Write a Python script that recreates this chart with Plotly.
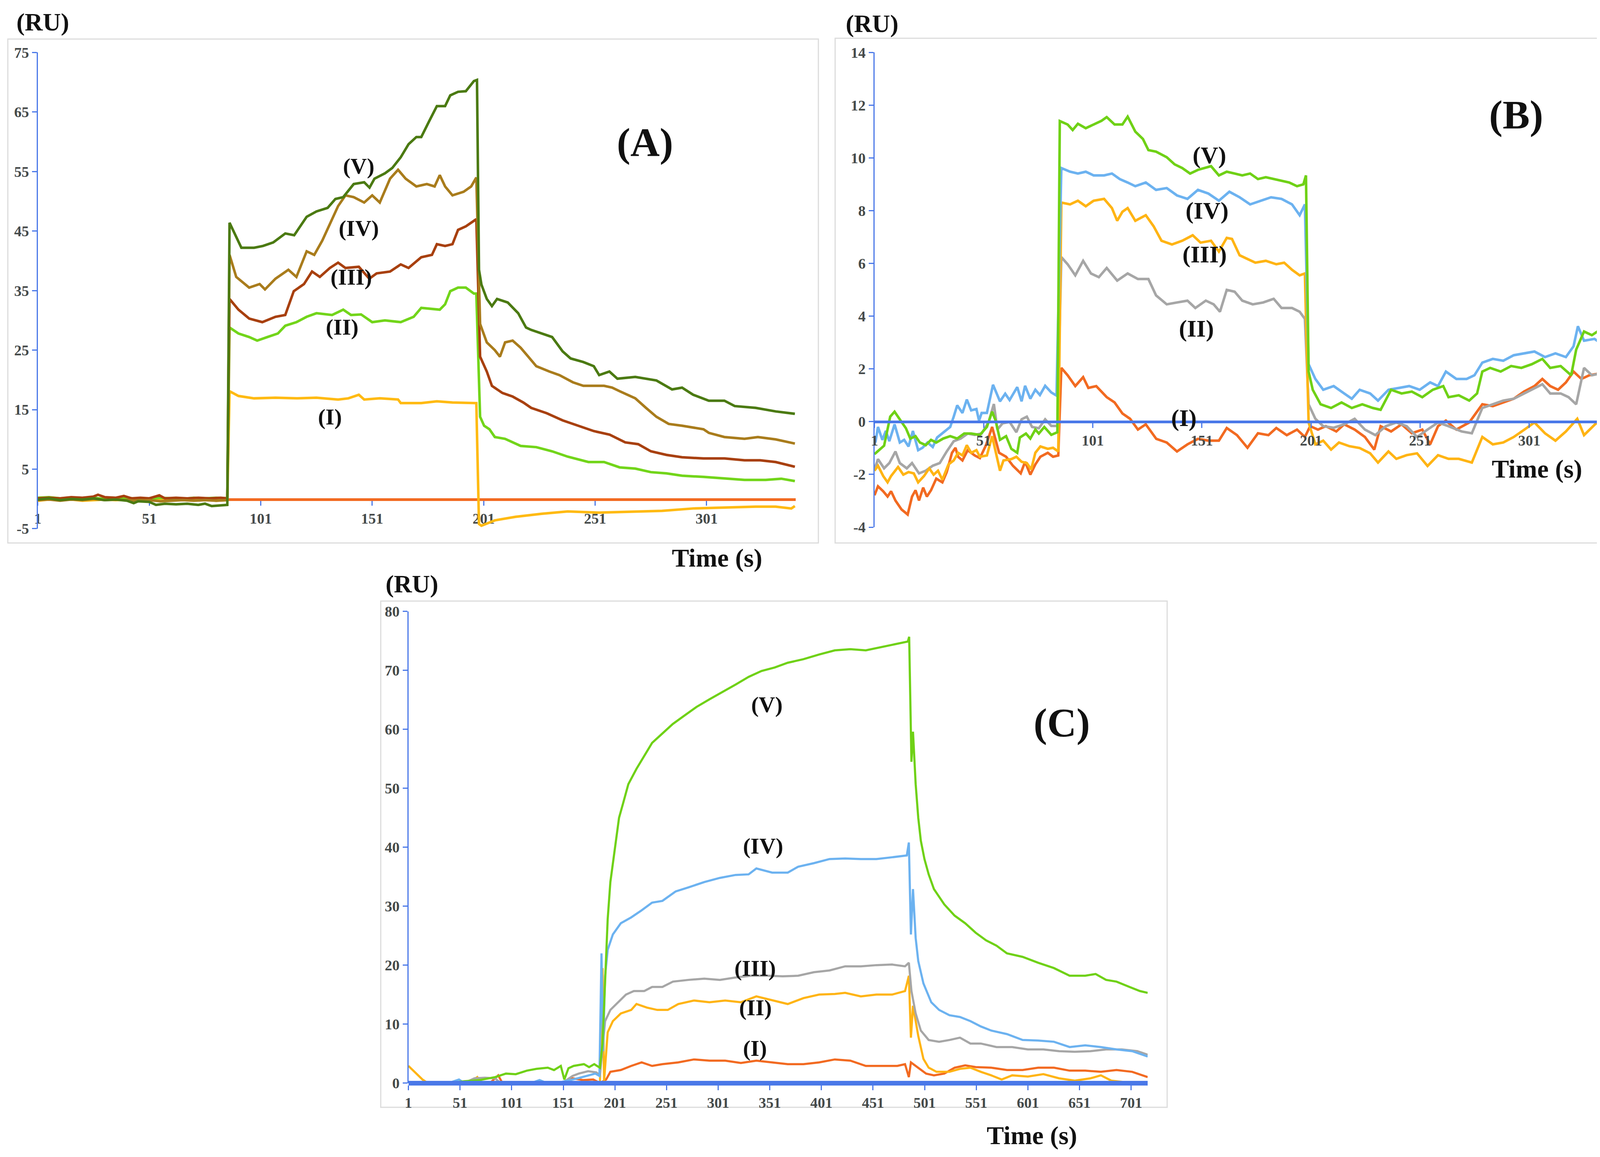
import plotly.graph_objects as go

W, H = 4200, 2963
SERIF = "Liberation Serif"
OFF = 8  # page body margin compensation (pixels)

# ---------------- Panel A data (time s, RU) ----------------
A_I = [(1,-0.3),(6,-0.1),(11,-0.2),(16,-0.1),(21,-0.3),(26,-0.2),(31,-0.1),(36,-0.2),(41,-0.1),(46,-0.2),(51,-0.3),(56,-0.1),(61,-0.2),(66,-0.1),(71,-0.2),(76,-0.1),(81,-0.3),(86,-0.2),
       (87,18.1),(91,17.3),(98,16.9),(107.6,17.0),(117,16.9),(126,17.0),(135.7,16.7),(140.3,16.9),(145,17.5),(147.4,16.7),(154.4,16.9),(162.6,16.7),(163.8,16.1),(173,16.1),(180,16.4),(187,16.2),(197.7,16.1),
       (198.9,-4.2),(200,-4.5),(206,-3.6),(215.3,-3.0),(227,-2.5),(238.7,-2.1),(252.8,-2.3),(266.8,-2.1),(281,-2.0),(295,-1.6),(309,-1.4),(323,-1.3),(332,-1.3),(339,-1.6),(340.6,-1.2)]
A_II = [(1,0.2),(6,0.3),(11,0.1),(16,0.2),(21,0.1),(26,0.2),(31,0.0),(36,0.1),(41,0.2),(46,0.0),(51,0.1),(56,0.2),(61,0.1),(66,0.0),(71,0.2),(76,0.1),(81,0.2),(86,0.1),
        (87,28.8),(91,27.8),(95.8,27.2),(99.4,26.6),(104,27.2),(108.7,27.8),(112,29.1),(117,29.7),(121.6,30.6),(126,31.2),(133,30.9),(138,31.8),(141.5,30.9),(146,31.0),(151,29.7),(156.7,30.0),(163.8,29.7),(169.6,30.6),(173,32.1),(181.3,31.8),(183.7,32.7),(186,34.9),(189.5,35.5),(193,35.5),(196.6,34.5),(197.7,34.5),
        (199.4,13.8),(201.2,12.3),(203.6,11.7),(206,10.4),(210.6,10.1),(217.6,8.9),(224.6,8.7),(231.7,8.0),(238.7,7.1),(248,6.2),(255,6.2),(262,5.3),(269,5.1),(276,4.5),(283,4.3),(290,3.9),(299.6,3.7),(309,3.4),(318,3.2),(327.5,3.2),(334.5,3.4),(340.6,3.0)]
A_III = [(1,0.1),(6,0.2),(11,0.1),(16,0.3),(21,0.2),(26,0.4),(28,0.7),(31,0.3),(36,0.2),(39.6,0.5),(43,0.1),(47,0.2),(51,0.1),(55.5,0.6),(58,0.1),(63,0.2),(68,0.1),(73,0.2),(78,0.1),(83,0.2),(86,0.1),
         (87,33.6),(91,31.8),(95.8,30.3),(101.7,29.7),(107.6,30.6),(112,30.9),(115.8,34.9),(120.4,36.1),(124,38.2),(127.5,37.3),(132,38.8),(135.7,39.7),(139,38.8),(145,39.0),(149.7,37.0),(153,37.9),(159,38.2),(163.8,39.4),(167.3,38.8),(173,40.6),(177.8,41.0),(180,42.8),(183.7,42.5),(187,42.8),(189.5,45.2),(193,45.8),(196.6,46.7),(197.7,47.0),
         (199.4,23.9),(202.4,21.4),(204.7,19.0),(209.4,17.8),(214,17.2),(218.8,16.2),(222.3,15.3),(229.3,14.4),(236.4,13.2),(243.4,12.3),(250.4,11.4),(257.5,10.8),(264.5,9.5),(270.3,9.2),(276,8.0),(283,7.4),(290,7.0),(299.6,6.8),(309,6.8),(318,6.5),(325,6.5),(332,6.2),(340.6,5.4)]
A_IV = [(1,-0.2),(6,-0.1),(11,-0.3),(16,-0.1),(21,-0.2),(26,0.0),(31,-0.2),(36,-0.1),(41,-0.2),(46,-0.3),(51,-0.2),(56,-0.4),(61,-0.3),(66,-0.2),(71,-0.3),(76,-0.2),(81,-0.3),(86,-0.2),
        (87,41.0),(90,37.3),(95.8,35.5),(100.5,36.1),(102.9,35.2),(107.6,37.0),(113.4,38.5),(117,37.3),(121.6,41.6),(125,41.0),(128.6,43.4),(132,46.1),(135.7,49.2),(139,51.0),(142.7,50.7),(147.4,49.8),(151,51.0),(154.4,49.8),(159,53.8),(162.6,55.3),(166,53.8),(170.8,52.5),(175.5,52.9),(179,52.5),(181.3,54.4),(183.7,52.5),(187,51.0),(192,51.6),(195.4,52.5),(197.7,54.0),
        (199.4,29.4),(202.4,26.3),(206,25.0),(208.3,23.9),(210.6,26.3),(214,26.6),(217.6,25.4),(221,23.9),(224.6,22.3),(230.5,21.4),(235,20.8),(241,19.6),(245.7,19.0),(255,19.0),(258.6,18.7),(262,18.1),(269,16.9),(273.8,15.3),(278.5,13.8),(284,12.6),(290,12.3),(299.6,11.7),(302,11.1),(309,10.4),(318,10.1),(324,10.4),(332,10.0),(340.6,9.3)]
A_V = [(1,-0.1),(6,0.1),(11,-0.2),(16,0.0),(21,-0.1),(26,0.1),(31,-0.2),(36,-0.1),(41,-0.3),(44,-0.7),(46,-0.4),(51,-0.5),(54,-1.0),(58,-0.8),(63,-0.9),(68,-0.8),(73,-1.0),(76,-0.8),(79,-1.2),(83,-1.1),(86,-1.0),
       (87,46.4),(92.3,42.2),(98,42.2),(102,42.5),(106.6,43.1),(112,44.6),(116,44.3),(121.6,47.4),(126,48.3),(131,48.9),(134.5,50.4),(138,50.7),(142.7,52.9),(147.4,53.2),(149.8,52.3),(152,53.8),(156.7,54.7),(160,55.6),(163.8,57.4),(167.3,59.6),(170.8,60.8),(173,60.8),(176.6,63.5),(180,66.0),(183.7,66.0),(186,67.8),(189.5,68.4),(193,68.5),(196.6,70.2),(198,70.4),
       (198.9,38.5),(200,36.0),(202.4,33.6),(204.7,32.4),(207,33.6),(211.8,33.0),(216.5,31.2),(220,28.8),(222.3,28.4),(227,27.8),(231.7,27.2),(236.4,24.8),(240,23.6),(245.7,23.0),(250.4,22.3),(252.8,20.8),(257.4,21.4),(261,20.2),(269,20.5),(278.5,19.9),(285.5,18.4),(290,18.7),(295,17.5),(302,16.5),(309,16.5),(313.6,15.6),(323,15.3),(332,14.7),(340.6,14.3)]

# ---------------- Panel B data ----------------
B_I = [(1,-2.79),(2.6,-2.45),(5,-2.64),(7,-2.84),(8.6,-2.64),(10.6,-2.99),(13.4,-3.33),(16.2,-3.52),(18.2,-2.84),(19.8,-2.6),(21.4,-2.99),(23.3,-2.5),(25,-2.84),(26.9,-2.6),(29.3,-2.16),(32.1,-2.3),(34.1,-1.91),(36.5,-1.18),(38.1,-0.99),(39.3,-1.33),(41.3,-1.47),(43.7,-1.08),(46.9,-1.28),(49.3,-1.38),(52.1,-0.89),(54.9,-0.2),(58.1,-1.18),(61.3,-1.33),(64.4,-1.67),(68,-1.96),(70,-1.52),(72.4,-2.01),(74.7,-1.62),(77,-1.33),(80.4,-1.18),(82.8,-1.33),(85.2,-1.28),
       (86.6,2.04),(89.5,1.76),(93,1.35),(96.6,1.69),(99,1.28),(102.6,1.35),(107.4,0.93),(111,0.73),(114.6,0.31),(118.1,0.11),(121.7,-0.3),(125.3,-0.1),(130.1,-0.65),(134.9,-0.79),(139.6,-1.13),(144.4,-0.86),(149.2,-0.65),(154,-0.72),(158.8,-0.72),(162.4,-0.24),(167.1,-0.51),(171.9,-0.99),(176.7,-0.44),(181.5,-0.51),(185.1,-0.24),(189.9,-0.51),(194.6,-0.3),(198.2,-0.58),
       (200.6,-0.17),(204.2,-0.3),(207.8,-0.17),(212.6,-0.37),(216.2,-0.1),(221,-0.3),(225.7,-0.58),(230,-1.06),(232.9,-0.17),(237.7,-0.37),(242.5,-0.1),(247.2,-0.44),(252,-0.3),(255.6,-0.86),(259.2,-0.17),(262.8,0.04),(267.6,-0.3),(273.5,-0.03),(279.5,0.66),(284.3,0.59),(289.1,0.73),(293.9,0.87),(298.6,1.14),(303.4,1.35),(307,1.62),(310.6,1.35),(314.2,1.21),(317.8,1.49),(321.3,1.9),(324.9,1.62),(328.5,1.76),(333.3,1.83),(335.6,1.35),(339.3,1.55)]
B_II = [(1,-1.81),(2.6,-1.42),(5.4,-1.77),(7.8,-1.57),(10.6,-1.13),(12.6,-1.57),(15.8,-1.77),(18.2,-1.57),(21.4,-1.96),(24.5,-1.86),(27.7,-1.67),(30.9,-1.57),(34.1,-1.13),(37.3,-0.74),(40.5,-0.64),(43.7,-0.45),(46.9,-0.5),(50.1,-0.45),(53.3,-0.01),(55.7,0.67),(57.3,-0.3),(59.7,-0.06),(62.9,-0.01),(66,-0.4),(68.4,0.09),(70.8,0.19),(73.2,-0.2),(76.3,-0.25),(79.2,0.09),(82,-0.16),(84.8,-0.16),
        (86.6,6.24),(89.5,5.97),(93,5.55),(96.6,6.1),(100.2,5.62),(103.8,5.48),(107.4,5.83),(112.2,5.35),(117,5.62),(121.7,5.41),(126.5,5.41),(130,4.79),(134.9,4.45),(139.6,4.52),(144.4,4.59),(148,4.31),(152.8,4.59),(156.4,4.45),(159.3,4.17),(162.4,5.0),(166,4.93),(169.5,4.59),(174.3,4.45),(179.1,4.52),(183.9,4.66),(187.5,4.31),(192.3,4.31),(195.8,4.17),(198.2,3.9),
        (199.9,0.66),(203,0.11),(206.6,-0.17),(211.4,-0.23),(216.2,-0.1),(221,0.11),(225.7,-0.3),(230.5,-0.51),(235.3,-0.17),(240.1,-0.03),(244.8,-0.17),(249.6,-0.58),(254.4,-0.3),(259.2,-0.03),(264,-0.17),(270,-0.37),(274.7,-0.44),(279.5,0.52),(284.3,0.66),(289.1,0.8),(293.9,0.87),(298.6,1.07),(303.4,1.28),(307,1.42),(310.6,1.07),(315.4,1.07),(319,0.93),(322.5,0.66),(326.1,2.04),(329.7,1.76),(333.3,1.83),(335.6,1.35),(339.3,1.28)]
B_III = [(1,-1.86),(2.6,-1.67),(5,-2.06),(7,-2.3),(8.6,-2.06),(11.8,-1.72),(14.2,-2.01),(16.6,-1.91),(19,-1.96),(21,-2.3),(23.7,-2.06),(26.1,-1.77),(28.1,-2.01),(30.1,-1.86),(32.1,-2.2),(34.9,-1.62),(37.3,-1.47),(39.3,-1.18),(41.3,-1.28),(43.3,-0.89),(45.3,-1.18),(47.7,-1.08),(49.3,-1.33),(52.5,-1.28),(54.9,-0.55),(56.5,-1.18),(58.5,-1.86),(60.1,-1.47),(63.7,-1.42),(66,-1.33),(68.4,-1.52),(70.8,-1.57),(72.8,-1.81),(74.7,-1.18),(77,-0.94),(80.4,-1.03),(82.8,-0.99),(85.2,-1.13),
         (86.6,8.31),(90.6,8.24),(94.2,8.38),(97.8,8.17),(101.4,8.38),(106.2,8.45),(109.8,8.1),(112.2,7.62),(114.6,7.96),(117,8.1),(120.5,7.62),(125.3,7.83),(128.9,7.41),(132.5,6.86),(137.3,6.72),(142,6.86),(146.8,7.07),(150.4,6.79),(155.2,6.86),(158.8,6.45),(162.4,6.97),(164.8,6.93),(168.3,6.31),(171.9,6.17),(175.5,6.03),(180.3,6.1),(185.1,5.97),(188.7,6.03),(192.3,5.76),(195.8,5.55),(198.2,5.62),
         (199.9,-0.03),(203,-0.86),(206.6,-0.72),(210.2,-1.06),(213.8,-0.79),(218.6,-0.93),(223.3,-1.0),(228.1,-1.2),(231.7,-1.55),(236.5,-1.13),(240.1,-1.41),(244.8,-1.27),(249.6,-1.2),(254.4,-1.68),(259.2,-1.27),(264,-1.41),(268.7,-1.41),(274.7,-1.55),(279.5,-0.58),(284.3,-0.86),(289.1,-0.79),(293.9,-0.58),(298.6,-0.31),(303.4,-0.03),(308.2,-0.44),(313,-0.72),(317.8,-0.37),(323,0.11),(326.1,-0.51),(332,-0.03),(335.6,-0.58),(338.1,-1.0),(339.3,-0.58)]
B_IV = [(1.4,-0.79),(2.6,-0.2),(4.6,-0.69),(6.2,-0.35),(7.8,-0.74),(10.2,-0.1),(12.6,-0.79),(14.6,-0.69),(16.6,-0.94),(18.6,-0.35),(21,-1.08),(23,-0.99),(25.3,-0.79),(27.7,-0.96),(29.7,-0.6),(32.5,-0.4),(35.7,-0.2),(37.3,0.19),(38.9,0.62),(41.3,0.33),(43.3,0.84),(45.3,0.43),(47.7,0.48),(48.9,0.04),(50.1,0.33),(52.5,0.33),(55.3,1.4),(58.5,0.77),(60.9,1.06),(62.9,0.82),(66.4,1.31),(68.4,0.77),(70,1.36),(72.4,0.87),(74.7,1.21),(76.8,1.01),(79.2,1.36),(82,1.11),(84.4,0.99),
        (86.6,9.62),(90.6,9.48),(94.2,9.41),(97.8,9.48),(101.4,9.34),(106.2,9.34),(109.8,9.41),(113.4,9.2),(117,9.07),(120.5,8.93),(125.3,9.07),(130,8.79),(134.9,8.86),(139.6,8.58),(144.4,8.45),(149.2,8.79),(154,8.65),(158.8,8.38),(163.6,8.72),(168.3,8.51),(173.1,8.24),(177.9,8.38),(182.7,8.51),(187.5,8.45),(192.3,8.24),(195.8,7.83),(198.2,8.24),
        (199.9,2.18),(203,1.62),(206.6,1.21),(211.4,1.35),(216.2,1.07),(219.7,0.87),(223.3,1.21),(228.1,1.07),(231.7,0.8),(236.5,1.21),(241.3,1.28),(246,1.35),(250.8,1.21),(255.6,1.49),(259.2,1.35),(262.8,1.9),(267.6,1.62),(272.3,1.62),(275.9,1.76),(279.5,2.24),(284.3,2.38),(289.1,2.31),(293.9,2.52),(298.6,2.59),(303.4,2.66),(308.2,2.45),(313,2.59),(317.8,2.45),(321.3,2.86),(323.3,3.62),(326.1,3.07),(330.9,3.14),(334.5,2.93),(336.9,2.86),(338.1,2.31),(339.3,3.0)]
B_V = [(1,-1.23),(3,-1.08),(5.4,-0.91),(8.2,0.19),(10.2,0.38),(13.4,-0.01),(15.4,-0.25),(17.4,-0.64),(19.8,-0.55),(21.8,-0.79),(24.5,-0.89),(26.9,-0.69),(29.3,-0.79),(32.5,-0.64),(35.7,-0.55),(38.9,-0.64),(42.1,-0.45),(45.3,-0.45),(49.3,-0.5),(52.5,-0.2),(54.9,0.38),(56.5,0.04),(58.5,-0.69),(61.3,-0.55),(63.7,-1.03),(66.4,-1.18),(67.6,-0.6),(70.4,-0.45),(72.4,-0.64),(74.7,-0.3),(76.3,-0.45),(78.8,-0.2),(82,-0.5),(84.8,-0.4),
       (85.9,11.4),(89.5,11.27),(91.8,11.06),(94.2,11.3),(97.8,11.13),(101.4,11.27),(105,11.41),(107.4,11.55),(111,11.27),(114.6,11.27),(117,11.57),(120.5,11.0),(124,10.72),(126.5,10.3),(130,10.24),(134.9,10.03),(138.5,9.76),(142,9.62),(145.6,9.41),(149.2,9.55),(152.8,9.62),(155.2,9.69),(158.8,9.34),(162.4,9.48),(166,9.41),(169.5,9.34),(173.1,9.41),(176.7,9.2),(180.3,9.27),(183.9,9.2),(187.5,9.14),(191,9.07),(194.6,8.93),(197.5,9.0),(198.7,9.34),
       (199.9,1.9),(201.8,1.21),(205.4,0.66),(210.2,0.52),(215,0.73),(219.7,0.52),(224.5,0.66),(229.3,0.52),(232.9,0.45),(237.7,1.21),(242.5,1.07),(247.2,1.14),(252,0.93),(256.8,1.21),(261.6,1.35),(264,0.93),(268.7,1.0),(273.5,0.8),(277.1,1.07),(279.5,1.9),(283.1,2.04),(287.9,1.9),(292.7,2.11),(297.4,2.04),(302.2,2.18),(307,2.38),(310.6,2.04),(315.4,2.11),(320.2,1.76),(322.5,2.73),(326.1,3.42),(329.7,3.28),(333.3,3.48),(336.9,2.45),(339.3,3.0)]

# ---------------- Panel C data ----------------
C_I = [(1,0),(40,0.1),(80,0),(88,1.3),(92,0),(150,0),(160,0.8),(170,0.5),(180,0.6),(186.5,0),
       (192.5,0.6),(196.6,1.9),(206.7,2.2),(216.8,2.9),(226.9,3.5),(237,2.9),(247,3.2),(262.3,3.5),(277.5,4.0),(292.6,3.8),(307.8,3.8),(323,3.4),(338,3.8),(353.3,3.5),(368.4,3.2),(383.6,3.2),(398.8,3.5),(414,4.0),(429,3.8),(444,2.9),(459.4,2.9),(474.5,2.9),(482,3.2),
       (485.7,1.0),(487.7,3.5),(494.8,2.6),(502.4,1.6),(510,1.3),(520,1.6),(530,2.6),(540.3,3.0),(550.4,2.7),(565.5,2.6),(580.7,2.2),(595.9,2.2),(611,2.6),(626.2,2.6),(641.4,2.1),(656.5,2.1),(671.7,1.9),(686.8,2.2),(702,1.9),(717,1.0)]
C_II = [(1,2.9),(7,1.9),(14.6,0.6),(19.7,0),(60,0),(67.7,1.0),(72,0),(186.5,0),
        (189,19.5),(190.5,0.3),(194,8.6),(199,10.5),(206.7,11.8),(216.8,12.4),(221.9,13.4),(232,12.8),(242,12.4),(252.2,12.4),(262.3,13.4),(277.5,14.0),(292.6,13.7),(307.8,14.0),(323,13.7),(338,14.7),(353.3,14.0),(368.4,13.4),(383.6,14.4),(398.8,15.0),(414,15.1),(424,15.3),(439.2,14.7),(454.3,15.0),(469.5,15.0),(482,15.6),
        (485.7,18.2),(487.7,7.7),(489.7,13.1),(494.8,8.0),(499.8,4.1),(504.9,2.6),(512.5,1.9),(525,1.9),(535.2,2.4),(545.3,2.6),(555.4,1.9),(565.5,1.3),(575.6,0.6),(585.8,1.3),(601,1.1),(616,1.5),(631.2,0.8),(646.4,0.4),(661.6,0.8),(671.7,1.3),(681.8,0.4),(697,0.1),(717,0)]
C_III = [(1,0),(55,0),(65,0.8),(75,0.9),(85,0.8),(90,0),(150,0),(160,1.2),(166,1.6),(175,2.0),(183,1.8),(186.5,1.3),
         (188,4.1),(191.5,10.5),(196.6,12.4),(204,13.7),(211.7,15.0),(219.3,15.6),(229.4,15.6),(237,16.3),(247,16.3),(257.2,17.2),(272.4,17.5),(287.6,17.7),(302.7,17.5),(317.9,17.9),(333,18.2),(348.2,18.2),(363.4,18.1),(378.5,18.2),(393.7,18.8),(408.9,19.1),(424,19.8),(439.2,19.8),(454.3,20.0),(469.5,20.1),(482,19.8),(485.7,20.4),
         (488.2,15.6),(492.3,11.8),(497.3,8.9),(504.9,7.3),(515,7.0),(525,7.3),(535.2,7.7),(545.3,6.7),(555.4,6.7),(570.6,6.1),(585.8,6.1),(601,5.7),(616,5.7),(631.2,5.4),(646.4,5.3),(661.6,5.4),(676.7,5.7),(691.9,5.7),(707,5.4),(717,4.8)]
C_IV = [(1,0),(40,0),(50,0.6),(55,0),(120,0),(128,0.5),(135,0),(150,0.2),(165,0.8),(176,1.3),(182,1.6),(186,1.2),
        (188,22.0),(189.5,5.4),(191.5,18.2),(194,22.6),(199,25.2),(206.7,27.1),(216.8,28.1),(226.9,29.3),(237,30.6),(247,30.9),(259.8,32.5),(272.4,33.2),(287.6,34.1),(302.7,34.8),(317.9,35.3),(330.5,35.4),(338,36.4),(353.3,35.7),(368.4,35.7),(378.5,36.7),(393.7,37.3),(408.9,38.0),(424,38.1),(439.2,38.0),(454.3,38.0),(469.5,38.3),(483.7,38.6),(485.7,40.8),
        (487.7,25.2),(489.7,32.9),(492.3,24.6),(494.8,20.7),(499.8,16.9),(507.4,13.7),(515,12.4),(525,11.5),(535.2,11.2),(545.3,10.5),(555.4,9.6),(565.5,8.9),(580.7,8.3),(595.9,7.3),(611,7.2),(626.2,7.0),(641.4,6.1),(656.5,6.4),(671.7,6.1),(686.8,5.7),(702,5.4),(717,4.5)]
C_V = [(1,0),(20,0.1),(40,0.0),(55,0.3),(70,0.5),(85,1.0),(95.5,1.6),(105,1.5),(115.7,2.1),(125,2.4),(136,2.6),(142,2.2),(148.6,2.9),(152,0.6),(156,2.5),(161,2.9),(171,3.2),(176,2.7),(181,3.2),(186.5,2.6),
       (189,6.7),(191.5,18.2),(194,27.8),(196.6,34.1),(199,37.3),(201.6,40.5),(205,45.0),(209,47.5),(214,50.7),(221.9,53.3),(229.4,55.5),(237,57.7),(247,59.3),(257,60.9),(267.3,62.2),(280,63.8),(292.6,65.1),(305,66.3),(317.9,67.6),(330.5,68.9),(343,69.9),(355.8,70.5),(368.4,71.3),(383.6,71.9),(398.8,72.7),(414,73.4),(429,73.6),(444,73.4),(459.4,74.0),(474.5,74.5),(484.7,74.9),(486,75.7),
       (488.2,54.5),(489.7,59.6),(492.3,50.7),(494.8,45.0),(497.3,41.1),(500.8,38.0),(504.9,35.4),(510,32.9),(520,30.3),(530,28.4),(540.3,27.1),(550.4,25.5),(560.5,24.2),(570.6,23.3),(580.7,22.0),(595.9,21.4),(611,20.4),(626.2,19.5),(641.4,18.2),(656.5,18.2),(666.6,18.5),(676.7,17.5),(686.8,17.2),(699.4,16.3),(709.5,15.6),(717,15.3)]

LABELS = ["(I)", "(II)", "(III)", "(IV)", "(V)"]
A_COLORS = ["#ffba12", "#72d51a", "#a8400f", "#a97c1c", "#4b7a12"]
B_COLORS = ["#f26a21", "#a6a6a6", "#ffb414", "#6cb2f0", "#6fd116"]
C_COLORS = ["#f26a21", "#ffb414", "#a6a6a6", "#6cb2f0", "#6fd116"]

A_TICKS_X = [1, 51, 101, 151, 201, 251, 301]
B_TICKS_X = [1, 51, 101, 151, 201, 251, 301]
C_TICKS_X = [1, 51, 101, 151, 201, 251, 301, 351, 401, 451, 501, 551, 601, 651, 701]
A_TICKS_Y = [-5, 5, 15, 25, 35, 45, 55, 65, 75]
B_TICKS_Y = [-4, -2, 0, 2, 4, 6, 8, 10, 12, 14]
C_TICKS_Y = [0, 10, 20, 30, 40, 50, 60, 70, 80]

# label positions (data coords) for roman numerals
A_LAB = [(132, 13.8), (137.5, 28.9), (141.5, 37.3), (145, 45.5), (145, 55.9)]
B_LAB = [(142.8, 0.14), (148.5, 3.53), (152.3, 6.34), (153.3, 8.0), (154.5, 10.1)]
C_LAB = [(336.6, 5.9), (337, 12.8), (336.6, 19.5), (344.7, 40.2), (348.2, 64.2)]


def px(x):
    return (x - OFF) / W


def py(y):
    return 1 - (y - OFF) / H


fig = go.Figure()

def add_panel(series, colors, xa, ya, width):
    for s, c, name in zip(series, colors, LABELS):
        fig.add_trace(go.Scatter(x=[p[0] for p in s], y=[p[1] for p in s], mode="lines",
                                 line=dict(color=c, width=width), name=name,
                                 xaxis=xa, yaxis=ya, showlegend=False))

add_panel([A_I, A_II, A_III, A_IV, A_V], A_COLORS, "x", "y", 6.5)
add_panel([B_I, B_II, B_III, B_IV, B_V], B_COLORS, "x2", "y2", 6.5)
add_panel([C_I, C_II, C_III, C_IV, C_V], C_COLORS, "x3", "y3", 5.5)

AX_BLUE = "#4a78e8"
tickfont = dict(family=SERIF, size=38, color="#454a4a", weight="bold")

def xaxis(domain, rng, pos, ticks, lcolor, lwidth, layer):
    return dict(domain=domain, range=rng, anchor="free", position=pos,
                showline=True, linecolor=lcolor, linewidth=lwidth,
                ticks="outside", ticklen=12, tickwidth=3, tickcolor=AX_BLUE,
                tickvals=ticks, ticktext=[str(t) for t in ticks], tickfont=tickfont,
                showgrid=False, zeroline=False, layer=layer)

def yaxis(domain, rng, anchor, ticks):
    return dict(domain=domain, range=rng, anchor=anchor,
                showline=True, linecolor=AX_BLUE, linewidth=3,
                ticks="outside", ticklen=12, tickwidth=3, tickcolor=AX_BLUE,
                tickvals=ticks, ticktext=[str(t) for t in ticks], tickfont=tickfont,
                showgrid=False, zeroline=False)

A_xd = [px(87), px(2032)]; A_yd = [py(1352), py(115)]
B_xd = [px(2234), px(4127)]; B_yd = [py(1348), py(115)]
C_xd = [px(1038), px(2935)]; C_yd = [py(2792), py(1567)]

fig.update_layout(
    width=W, height=H, autosize=False,
    margin=dict(l=0, r=0, t=0, b=0),
    paper_bgcolor="white", plot_bgcolor="rgba(0,0,0,0)",
    xaxis=xaxis(A_xd, [1, 341], py(1276), A_TICKS_X, "#f26a21", 7, "below traces"),
    yaxis=yaxis(A_yd, [-5, 75], "x", A_TICKS_Y),
    xaxis2=xaxis(B_xd, [1, 339], py(1074), B_TICKS_X, AX_BLUE, 7, "above traces"),
    yaxis2=yaxis(B_yd, [-4, 14], "x2", B_TICKS_Y),
    xaxis3=xaxis(C_xd, [1, 717], C_yd[0], C_TICKS_X, AX_BLUE, 12, "above traces"),
    yaxis3=yaxis(C_yd, [0, 80], "x3", C_TICKS_Y),
)

# panel frames
FRAMES = [(10, 80, 2090, 1389), (2133, 78, 4197, 1389), (967, 1540, 2985, 2855)]
for x0, y0, x1, y1 in FRAMES:
    fig.add_shape(type="rect", xref="paper", yref="paper",
                  x0=px(x0), x1=px(x1), y0=py(y1), y1=py(y0),
                  line=dict(color="#dcdcdc", width=3), layer="below")

lab_font = dict(family=SERIF, size=58, color="#111111", weight="bold")
lab_font_b = dict(family=SERIF, size=62, color="#111111", weight="bold")
big_font = dict(family=SERIF, size=104, color="#111111", weight="bold")
ttl_font = dict(family=SERIF, size=66, color="#111111", weight="bold")
ru_font = dict(family=SERIF, size=64, color="#111111", weight="bold")

def ann(x, y, xr, yr, t, f):
    fig.add_annotation(x=x, y=y, xref=xr, yref=yr, text=t, showarrow=False, font=f,
                       xanchor="center", yanchor="middle")

for labs, xr, yr, f in [(A_LAB, "x", "y", lab_font), (B_LAB, "x2", "y2", lab_font_b), (C_LAB, "x3", "y3", lab_font)]:
    for (lx, ly), t in zip(labs, LABELS):
        ann(lx, ly, xr, yr, t, f)

ann(273.4, 59.9, "x", "y", "(A)", big_font)
ann(295, 11.64, "x2", "y2", "(B)", big_font)
ann(633.8, 61.1, "x3", "y3", "(C)", big_font)

# axis titles
ann(px(1830), py(1428), "paper", "paper", "Time (s)", ttl_font)
ann(304.6, -1.79, "x2", "y2", "Time (s)", ttl_font)
ann(px(2638), py(2928), "paper", "paper", "Time (s)", ttl_font)
for cx, cy in [(100, 36), (2228, 40), (1047, 1496)]:
    ann(px(cx), py(cy), "paper", "paper", "(RU)", ru_font)

fig.write_html("out.html")
